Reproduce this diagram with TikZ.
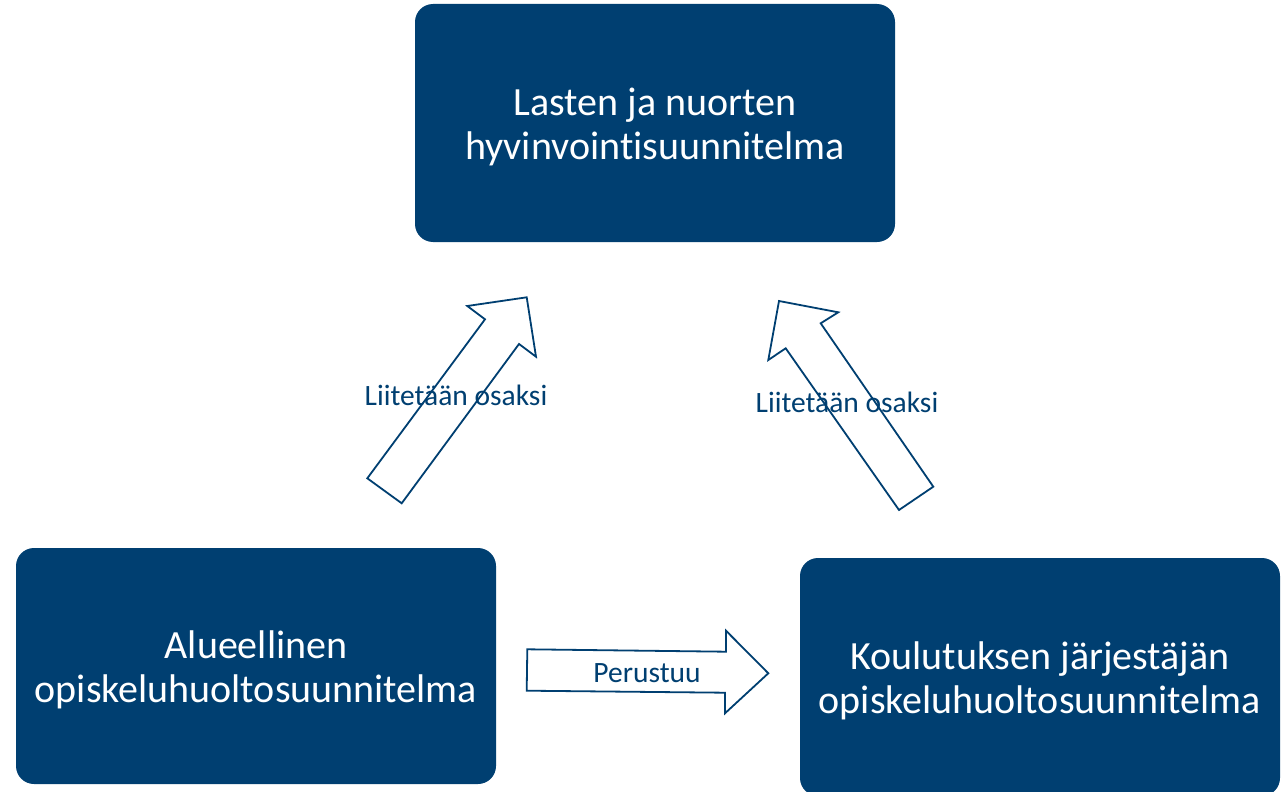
\documentclass[tikz,border=0pt]{standalone}
\usepackage{fontspec}
\setmainfont{Carlito}[Ligatures=NoCommon]
\definecolor{navy}{RGB}{0,63,113}
\begin{document}
\begin{tikzpicture}[x=1pt,y=-1pt,
  box/.style={fill=navy,draw=navy,rounded corners=18pt,text=white,align=center,
    font=\fontsize{40}{44}\selectfont,inner sep=0pt},
  blockarrow/.style={draw=navy,fill=white,line width=1.8pt,line join=miter},
  lbl/.style={text=navy,font=\fontsize{29.5}{33}\selectfont,inner sep=0pt}]
\useasboundingbox (0,0) rectangle (1288,792);
% boxes
\fill[navy,rounded corners=18pt] (415,4) rectangle (895,242);
\node[box,fill=none,draw=none] (top) at (655,126.5)
  {Lasten ja nuorten\\hyvinvointisuunnitelma};
\fill[navy,rounded corners=18pt] (16,548) rectangle (496,784);
\node[box,fill=none,draw=none] (left) at (256,669.5)
  {Alueellinen\\opiskeluhuoltosuunnitelma};
\fill[navy,rounded corners=18pt] (800,558) rectangle (1280,796);
\node[box,fill=none,draw=none] (right) at (1040,681)
  {Koulutuksen järjestäjän\\opiskeluhuoltosuunnitelma};
% left block arrow
\draw[blockarrow] (526.7,297.3) -- (467.3,306) -- (485,319.3) -- (367.3,478.3)
  -- (401.7,503.3) -- (519,344) -- (536,356.7) -- cycle;
% right block arrow
\draw[blockarrow] (779,301) -- (838.3,312.3) -- (820.7,323.3) -- (933.3,486.7)
  -- (899,510) -- (785.7,348.3) -- (768.3,360) -- cycle;
% bottom block arrow
\draw[blockarrow] (527.3,649.3) -- (726,651.7) -- (726,630.7) -- (768.3,673.3)
  -- (725,713.3) -- (725,692.7) -- (526.7,690.7) -- cycle;
% labels
\node[lbl] (l1) at (456,395) {Liitetään osaksi};
\node[lbl] (l2) at (847,402) {Liitetään osaksi};
\node[lbl] (l3) at (647,673) {Perustuu};
\end{tikzpicture}
\end{document}
